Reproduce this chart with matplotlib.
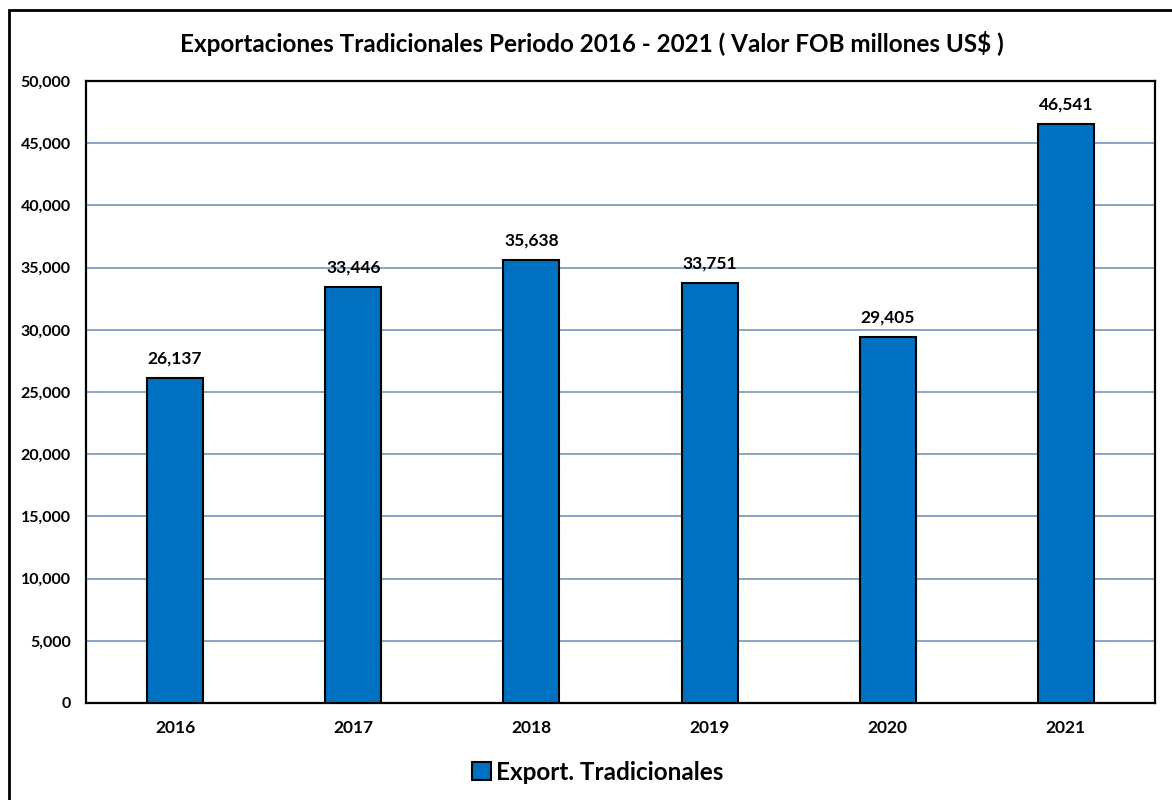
import matplotlib
matplotlib.use('Agg')
import matplotlib.pyplot as plt
from matplotlib.patches import Rectangle
from matplotlib.ticker import FuncFormatter

years = ['2016', '2017', '2018', '2019', '2020', '2021']
valores = [26137, 33446, 35638, 33751, 29405, 46541]
serie = 'Export. Tradicionales'
titulo = 'Exportaciones Tradicionales Periodo 2016 - 2021 ( Valor FOB millones US$ )'

plt.rcParams['font.family'] = ['Lato', 'DejaVu Sans']

fig = plt.figure(figsize=(11.72, 8), dpi=100)
ax = fig.add_axes([86/1172, 1-703/800, (1155-86)/1172, (703-81)/800])

x = range(len(years))
ax.bar(x, valores, width=0.315, color='#0070C0', edgecolor='black', linewidth=1.5,
       label=serie, zorder=3)
for xi, v in zip(x, valores):
    ax.text(xi, v + 900, '{:,}'.format(v), ha='center', va='bottom',
            fontsize=12.5, fontweight='bold')

ax.set_xlim(-0.5, len(years) - 0.5)
ax.set_ylim(0, 50000)
ax.set_yticks(range(0, 50001, 5000))
ax.yaxis.set_major_formatter(FuncFormatter(lambda v, p: '{:,}'.format(int(v))))
ax.set_xticks(list(x))
ax.set_xticklabels(years)
ax.tick_params(axis='x', length=0, labelsize=12.5, pad=12)
ax.tick_params(axis='y', length=0, labelsize=11.5, pad=11)
for lab in ax.get_xticklabels() + ax.get_yticklabels():
    lab.set_fontweight('bold')
ax.grid(axis='y', color='#7F9DC0', linewidth=1.3, zorder=0)
for s in ax.spines.values():
    s.set_linewidth(1.6)
    s.set_color('black')

fig.text(0.505, 1-44/800, titulo, ha='center', va='center', fontsize=17.5, fontweight='bold')

leg = fig.legend(loc='center', bbox_to_anchor=(0.51, 1-772/800), frameon=False,
                 prop={'size': 17.5, 'weight': 'bold'}, handlelength=0.75, handleheight=0.75,
                 handletextpad=0.2)

fig.patches.append(Rectangle((9/1172, -0.1), 1.2, 1-10/800+0.1, transform=fig.transFigure,
                             fill=False, edgecolor='black', linewidth=2))

fig.savefig('out.png', dpi=100)
